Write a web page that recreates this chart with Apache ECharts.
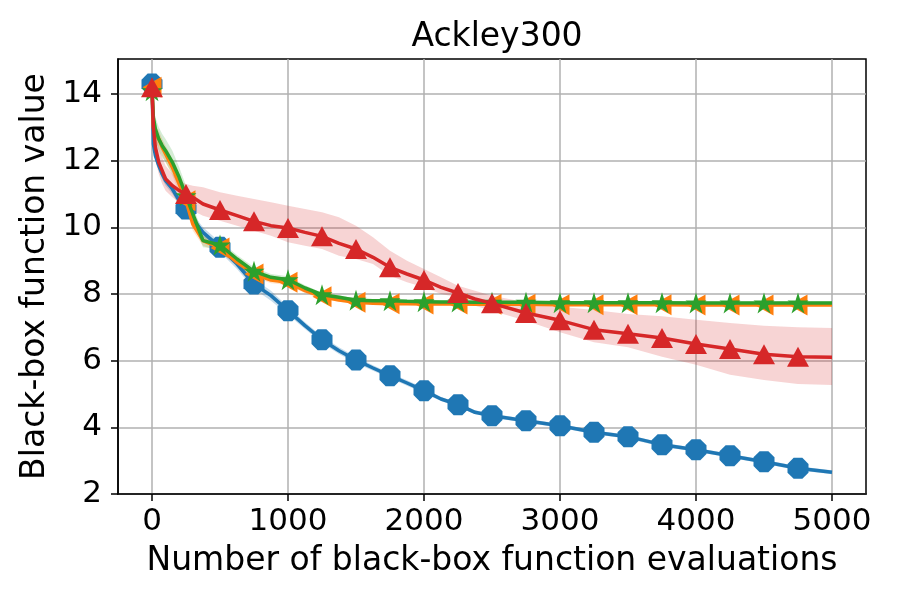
<!DOCTYPE html>
<html>
<head>
<meta charset="utf-8">
<title>Ackley300</title>
<script src="https://cdn.jsdelivr.net/npm/echarts@6/dist/echarts.min.js"></script>
<style>
	html, body { margin: 0; padding: 0; background: #fff; }
	#main { width: 900px; height: 600px; }
</style>
</head>
<body>
<div id="main"></div>
<script>
// evaluation counts where the curves are sampled
const evals = [0, 10, 25, 50, 75, 100, 150, 200, 250, 300, 375, 500, 625, 750, 875, 1000, 1125, 1250, 1375, 1500,
	1625, 1750, 1875, 2000, 2125, 2250, 2375, 2500, 2750, 3000, 3250, 3500, 3750, 4000, 4250, 4500, 4750, 5000];

// mean best-so-far values
const blueMean = [14.3, 12.5, 12.15, 11.85, 11.6, 11.4, 11.15, 10.8, 10.55, 10.25, 9.85, 9.4, 8.9, 8.3, 7.95, 7.5, 7.05, 6.63, 6.3, 6.02,
	5.78, 5.55, 5.33, 5.1, 4.85, 4.68, 4.45, 4.35, 4.2, 4.05, 3.85, 3.72, 3.48, 3.33, 3.15, 2.97, 2.77, 2.65];
const orangeMean = [14.2, 13.0, 12.8, 12.65, 12.4, 12.2, 11.8, 11.3, 10.8, 10.1, 9.6, 9.38, 8.95, 8.6, 8.42, 8.35, 8.1, 7.92, 7.82, 7.75,
	7.72, 7.71, 7.71, 7.7, 7.7, 7.7, 7.69, 7.69, 7.69, 7.68, 7.68, 7.68, 7.68, 7.67, 7.67, 7.67, 7.67, 7.67];
const greenMean = [14.1, 13.3, 12.95, 12.65, 12.45, 12.3, 11.95, 11.5, 10.95, 10.4, 9.6, 9.47, 9.05, 8.68, 8.5, 8.43, 8.18, 7.98, 7.9, 7.81,
	7.8, 7.8, 7.78, 7.77, 7.76, 7.76, 7.75, 7.75, 7.75, 7.74, 7.74, 7.74, 7.74, 7.73, 7.73, 7.73, 7.73, 7.73];
const redMean = [14.2, 13.0, 12.4, 11.95, 11.7, 11.45, 11.25, 11.1, 11.0, 10.9, 10.7, 10.52, 10.35, 10.18, 10.05, 9.98, 9.85, 9.73, 9.52, 9.35,
	9.1, 8.8, 8.6, 8.42, 8.2, 8.03, 7.85, 7.72, 7.43, 7.21, 6.93, 6.81, 6.68, 6.5, 6.35, 6.19, 6.12, 6.1];

// shaded band around the red curve
const redLow = [14.1, 12.6, 12.0, 11.6, 11.3, 11.1, 10.9, 10.75, 10.65, 10.5, 10.35, 10.2, 10.05, 9.9, 9.75, 9.55, 9.45, 9.35, 9.15, 9.05,
	8.9, 8.55, 8.35, 8.2, 8.0, 7.9, 7.65, 7.5, 7.2, 6.85, 6.55, 6.4, 6.12, 5.88, 5.58, 5.42, 5.3, 5.27];
const redHigh = [14.3, 13.4, 12.9, 12.4, 12.1, 11.85, 11.6, 11.4, 11.3, 11.25, 11.2, 11.05, 10.95, 10.85, 10.75, 10.65, 10.55, 10.45, 10.3, 10.05,
	9.7, 9.3, 9.0, 8.75, 8.5, 8.25, 8.1, 7.95, 7.75, 7.62, 7.52, 7.4, 7.33, 7.23, 7.13, 7.05, 7.0, 6.98];

// half widths of the thin bands of the other curves
const blueSpread = [0.1, 0.15, 0.15, 0.15, 0.15, 0.15, 0.15, 0.15, 0.15, 0.15, 0.15, 0.15, 0.15, 0.15, 0.15, 0.12, 0.1, 0.1, 0.1, 0.1,
	0.08, 0.08, 0.08, 0.08, 0.06, 0.06, 0.06, 0.06, 0.06, 0.06, 0.06, 0.06, 0.06, 0.06, 0.06, 0.06, 0.06, 0.06];
const orangeSpread = [0.1, 0.25, 0.25, 0.25, 0.25, 0.25, 0.25, 0.25, 0.2, 0.2, 0.15, 0.12, 0.12, 0.1, 0.1, 0.08, 0.08, 0.06, 0.05, 0.04,
	0.04, 0.04, 0.04, 0.04, 0.04, 0.04, 0.04, 0.04, 0.04, 0.04, 0.04, 0.04, 0.04, 0.04, 0.04, 0.04, 0.04, 0.04];
const greenSpread = [0.1, 0.35, 0.35, 0.35, 0.35, 0.35, 0.35, 0.3, 0.3, 0.25, 0.2, 0.12, 0.12, 0.12, 0.1, 0.1, 0.08, 0.06, 0.06, 0.05,
	0.05, 0.05, 0.05, 0.05, 0.05, 0.05, 0.05, 0.05, 0.05, 0.05, 0.05, 0.05, 0.05, 0.05, 0.05, 0.05, 0.05, 0.05];

const xTicks = [0, 1000, 2000, 3000, 4000, 5000];
const yTicks = [2, 4, 6, 8, 10, 12, 14];

const FONT = 'DejaVu Sans';
const FS = 31;      // tick labels
const FS_NAME = 33; // title and axis names
const OCTAGON = 'path://M29.3,0 L70.7,0 L100,29.3 L100,70.7 L70.7,100 L29.3,100 L0,70.7 L0,29.3 Z';
const STAR = 'path://M50,0 L61.17,34.63 L97.55,34.55 L68.07,55.87 L79.39,90.45 L50,69 L20.61,90.45 L31.93,55.87 L2.45,34.55 L38.83,34.63 Z';
const LEFT_TRI = 'path://M0,50 L100,0 L100,100 Z';

function pairs(ys) {
	return evals.map((x, i) => [x, ys[i]]);
}

// markers every 250 evaluations
function markerAt(sym) {
	return function (value) {
		return (value[0] % 250 === 0 && value[0] < 5000) ? sym : 'none';
	};
}

// shaded band as one polygon, points go through the axis scales
function band(low, high, color) {
	return {
		type: 'custom',
		silent: true,
		z: 1,
		data: [[evals[0], low[0]]],
		renderItem: function (params, api) {
			const pts = [];
			evals.forEach((x, i) => pts.push(api.coord([x, high[i]])));
			for (let i = evals.length - 1; i >= 0; i--) {
				pts.push(api.coord([evals[i], low[i]]));
			}
			return { type: 'polygon', shape: { points: pts }, style: { fill: color } };
		}
	};
}

function curve(name, ys, color, sym, size, z) {
	return {
		name: name, type: 'line', data: pairs(ys),
		symbol: markerAt(sym), symbolSize: size,
		lineStyle: { color: color, width: 3.5 },
		itemStyle: { color: color },
		z: z
	};
}

const chart = echarts.init(document.getElementById('main'));

const series = [
	band(blueMean.map((v, i) => v - blueSpread[i]), blueMean.map((v, i) => v + blueSpread[i]), 'rgba(31,119,180,0.25)'),
	band(orangeMean.map((v, i) => v - orangeSpread[i]), orangeMean.map((v, i) => v + orangeSpread[i]), 'rgba(255,127,14,0.2)'),
	band(greenMean.map((v, i) => v - greenSpread[i]), greenMean.map((v, i) => v + greenSpread[i]), 'rgba(44,160,44,0.2)'),
	band(redLow, redHigh, 'rgba(214,39,40,0.2)'),
	curve('blue', blueMean, '#1f77b4', OCTAGON, 21, 3),
	curve('orange', orangeMean, '#ff7f0e', LEFT_TRI, [19, 21], 4),
	curve('green', greenMean, '#2ca02c', STAR, 21, 5),
	curve('red', redMean, '#d62728', 'triangle', [22, 20], 6)
];

chart.setOption({
	animation: false,
	backgroundColor: '#fff',
	title: {
		text: 'Ackley300',
		left: 492,
		top: 16,
		textAlign: 'center',
		textStyle: { fontFamily: FONT, fontSize: FS_NAME, fontWeight: 'normal', color: '#000' }
	},
	grid: {
		left: 118, right: 34, top: 59, bottom: 106,
		show: true, borderColor: '#000', borderWidth: 1.5
	},
	xAxis: {
		type: 'value',
		min: -250,
		max: 5250,
		name: 'Number of black-box function evaluations',
		nameLocation: 'middle',
		nameGap: 51,
		nameTextStyle: { fontFamily: FONT, fontSize: FS_NAME, color: '#000' },
		axisLine: { show: true, onZero: false, lineStyle: { color: '#000', width: 1.5 } },
		axisTick: { show: true, customValues: xTicks, length: 7, lineStyle: { color: '#000', width: 1.5 } },
		axisLabel: {
			customValues: xTicks, margin: 12, fontFamily: FONT, fontSize: FS, color: '#000',
			formatter: v => String(v)
		},
		splitLine: { show: true, lineStyle: { color: '#b0b0b0', width: 1.5 } }
	},
	yAxis: {
		type: 'value',
		min: 2,
		max: 15.05,
		name: 'Black-box function value',
		nameLocation: 'middle',
		nameGap: 64,
		nameRotate: 90,
		nameTextStyle: { fontFamily: FONT, fontSize: FS_NAME, color: '#000' },
		axisLine: { show: true, onZero: false, lineStyle: { color: '#000', width: 1.5 } },
		axisTick: { show: true, customValues: yTicks, length: 7, lineStyle: { color: '#000', width: 1.5 } },
		axisLabel: {
			customValues: yTicks, margin: 16, fontFamily: FONT, fontSize: FS, color: '#000',
			formatter: v => String(v)
		},
		splitLine: { show: true, lineStyle: { color: '#b0b0b0', width: 1.5 } }
	},
	series: series
});
</script>
</body>
</html>
